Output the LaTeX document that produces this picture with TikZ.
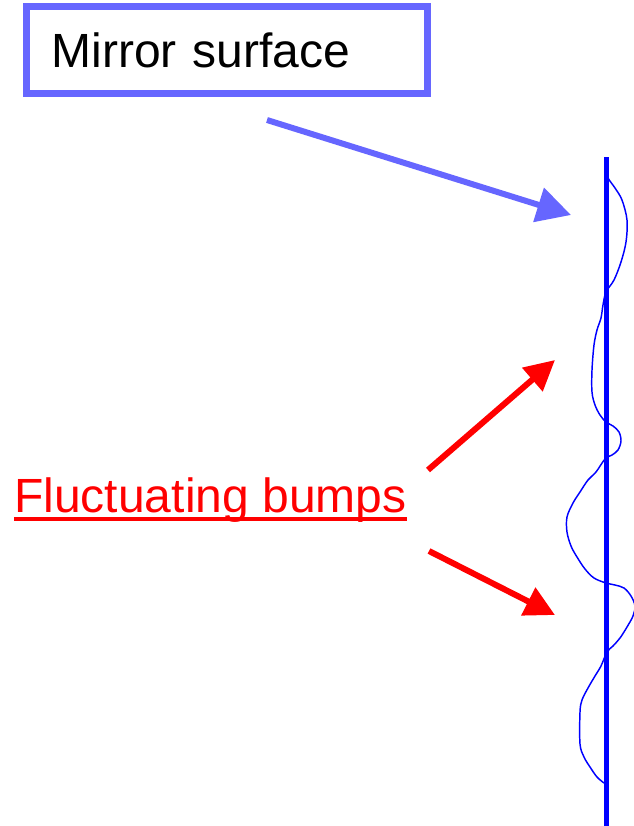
\documentclass[tikz,border=0pt]{standalone}
\usepackage{fontspec}
\setmainfont{Liberation Sans}
\usetikzlibrary{arrows.meta}
\definecolor{mirrorblue}{RGB}{102,102,255}

\begin{document}
\begin{tikzpicture}[
  x=0.75pt, y=-0.75pt,
  every node/.style={font=\fontsize{36}{43}\selectfont},
  labelbox/.style={draw=mirrorblue, line width=5.25pt, minimum width=300.75pt,
                   minimum height=65.25pt, inner xsep=18.75pt,
                   text width=263.25pt, align=left},
  ptr/.style={-{Triangle[length=25.5pt, width=26pt]}, line width=4.5pt, mirrorblue},
  bumparr/.style={-{Triangle[length=22.5pt, width=22.5pt]}, line width=4.5pt, red},
  wave/.style={blue, line width=1.1pt, smooth, tension=0.55}
]
\useasboundingbox (0,0) rectangle (634,826);

%% Nodes
\node[labelbox] (mirror) at (227,50) {Mirror surface};
\node[anchor=base west, inner sep=0pt, text=red] (bumps) at (14,512) {Fluctuating bumps};
\draw[red, line width=3pt] ([yshift=-4.9pt]bumps.base west) -- ([yshift=-4.9pt]bumps.base east);

%% Mirror and its bumps
\coordinate (mtop) at (606,157);
\coordinate (mbot) at (606,826);
\draw[blue, line width=3.75pt] (mtop) -- (mbot);
\draw[wave] plot coordinates {
  (606,170) (608,178) (615,188) (622,200) (627,220) (626,242) (621,262) (614,280) (606,292)
  (603,305) (601,318) (597,330) (594,345) (592,370) (592,392) (595,405) (600,415) (606,422)
  (613,426) (619,432) (621,441) (618,450) (612,455) (605,459) (596,472)
  (588,480) (580,492) (573,503) (567,517) (567,532) (571,546) (577,557) (585,569) (594,578) (606,583)
  (615,585) (624,588) (631,596) (635,606) (633,616) (627,627) (620,638) (613,646) (607,652)
  (601,666) (595,676) (588,688) (582,700) (580,712) (580,744) (584,757) (590,767) (597,777) (604,783)
};

%% Arrows
\coordinate (mstart) at (267,120);
\coordinate (mhit) at (571,215);
\coordinate (upstart) at (428,470);
\coordinate (uphit) at (555,360);
\coordinate (lowstart) at (429,551);
\coordinate (lowhit) at (555,615);
\draw[ptr] (mstart) -- (mhit);
\draw[bumparr] (upstart) -- (uphit);
\draw[bumparr] (lowstart) -- (lowhit);
\end{tikzpicture}
\end{document}
